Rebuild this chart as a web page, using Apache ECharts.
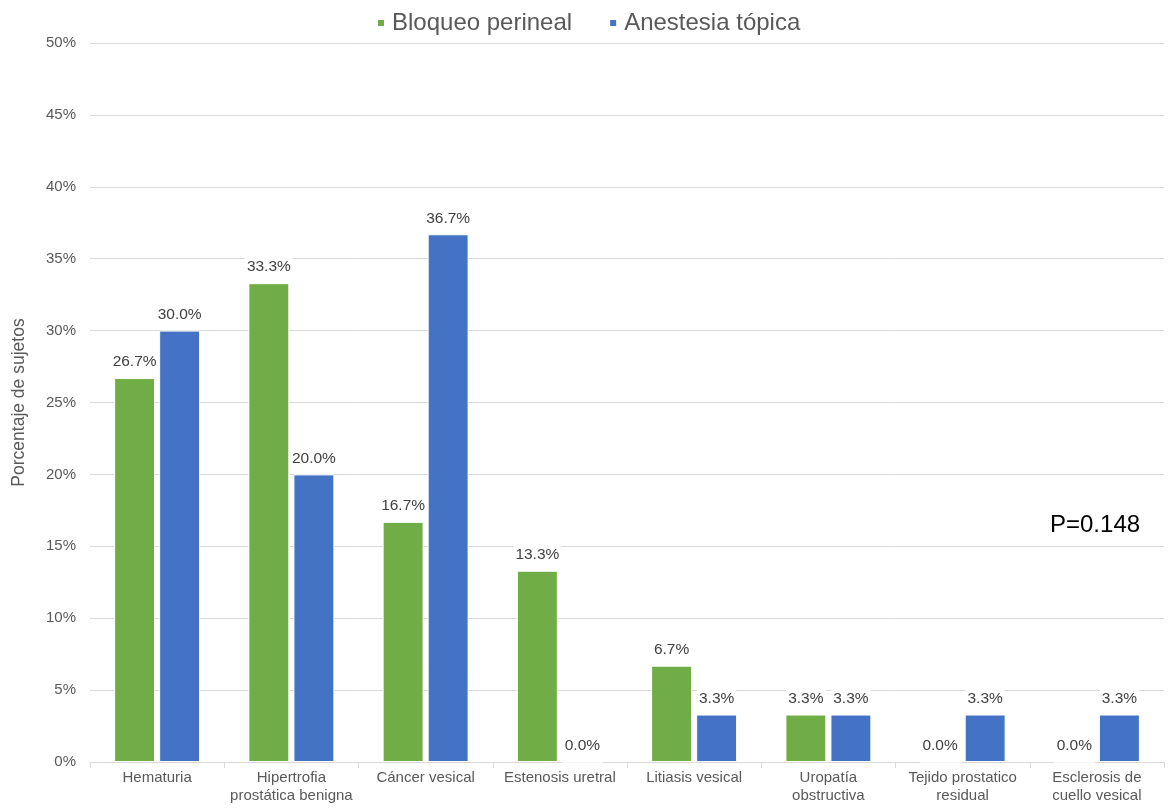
<!DOCTYPE html>
<html>
<head>
<meta charset="utf-8">
<script src="https://cdn.jsdelivr.net/npm/echarts@6/dist/echarts.min.js"></script>
<style>
  html, body { margin: 0; padding: 0; background: #fff; }
  #chart { width: 1169px; height: 810px; }
</style>
</head>
<body>
<div id="chart"></div>
<script>
// categorías y valores (%)
const categories = [
  'Hematuria',
  'Hipertrofia\nprostática benigna',
  'Cáncer vesical',
  'Estenosis uretral',
  'Litiasis vesical',
  'Uropatía\nobstructiva',
  'Tejido prostatico\nresidual',
  'Esclerosis de\ncuello vesical'
]
const bloqueoPerineal = [26.7, 33.3, 16.7, 13.3, 6.7, 3.3, 0.0, 0.0]
const anestesiaTopica = [30.0, 20.0, 36.7, 0.0, 3.3, 3.3, 3.3, 3.3]
const seriesNames = ['Bloqueo perineal', 'Anestesia tópica']
const pValueText = 'P=0.148'

const font = 'Liberation Sans, Arial, sans-serif'

let myChart = echarts.init(document.getElementById('chart'))

function makeSeries(name, data, color) {
  return {
    name: name,
    type: 'bar',
    data: data,
    barWidth: '30.5%',
    barGap: '10%',
    itemStyle: {
      color: color,
      borderColor: '#fff',
      borderWidth: 1
    },
    label: {
      show: true,
      position: 'top',
      distance: 5,
      color: '#404040',
      fontSize: 15.5,
      fontFamily: font,
      backgroundColor: '#fff',
      padding: [3, 2],
      formatter: p => p.value.toFixed(1) + '%'
    }
  }
}

let option = {
  animation: false,
  color: ['#70AD47', '#4472C4'],
  textStyle: { fontFamily: font },
  legend: {
    top: 6,
    left: 371,
    itemWidth: 8,
    itemHeight: 8,
    itemGap: 36,
    icon: 'rect',
    textStyle: {
      color: '#595959',
      fontSize: 24,
      fontFamily: font,
      padding: [0, 0, 0, 2]
    },
    data: seriesNames
  },
  grid: {
    left: 90,
    right: 5,
    top: 43,
    bottom: 48
  },
  xAxis: {
    type: 'category',
    data: categories,
    axisLine: { lineStyle: { color: '#d9d9d9', width: 1 } },
    axisTick: { show: true, length: 6, lineStyle: { color: '#d9d9d9' } },
    axisLabel: {
      color: '#595959',
      fontSize: 15,
      fontFamily: font,
      lineHeight: 18,
      margin: 7,
      interval: 0
    }
  },
  yAxis: {
    type: 'value',
    min: 0,
    max: 50,
    interval: 5,
    name: 'Porcentaje de sujetos',
    nameLocation: 'middle',
    nameGap: 62,
    nameTextStyle: {
      color: '#595959',
      fontSize: 17.5,
      fontFamily: font
    },
    axisLine: { show: false },
    axisTick: { show: false },
    axisLabel: {
      color: '#595959',
      fontSize: 15,
      fontFamily: font,
      margin: 14,
      formatter: '{value}%'
    },
    splitLine: {
      show: true,
      lineStyle: { color: '#d9d9d9', width: 1 }
    }
  },
  graphic: [{
    type: 'text',
    left: 1050,
    top: 513,
    style: {
      text: pValueText,
      fill: '#000',
      fontSize: 24,
      fontFamily: font
    }
  }],
  series: [
    makeSeries(seriesNames[0], bloqueoPerineal, '#70AD47'),
    makeSeries(seriesNames[1], anestesiaTopica, '#4472C4')
  ]
}

myChart.setOption(option)
</script>
</body>
</html>
